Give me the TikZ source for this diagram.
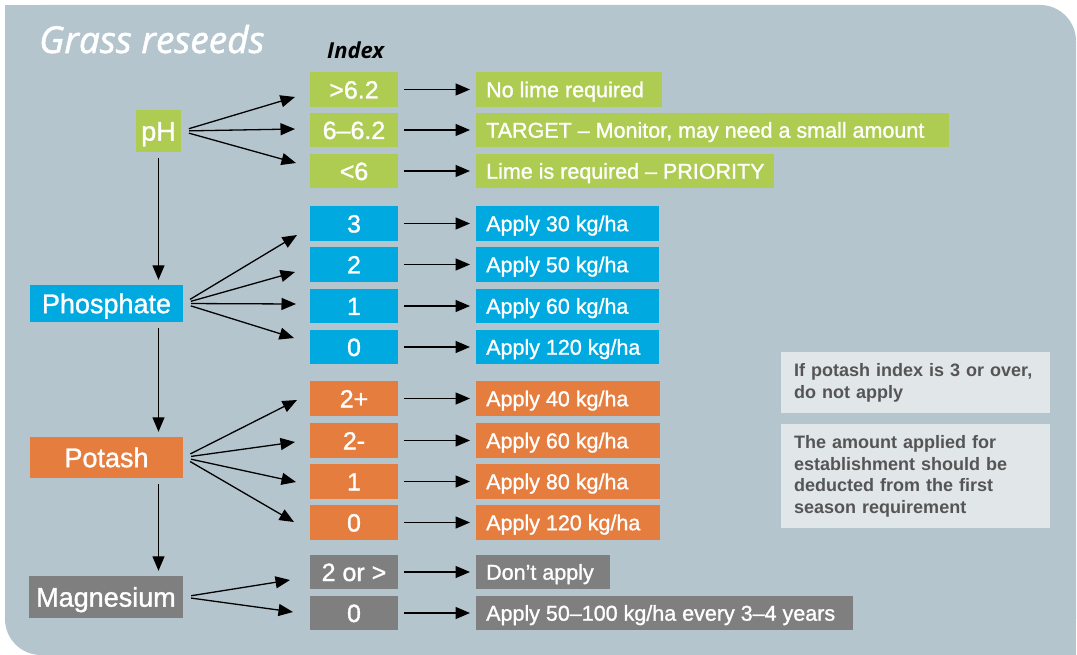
\documentclass[tikz,border=0pt]{standalone}
\usepackage{fontspec}
\setmainfont{Liberation Sans}
\newfontfamily\boxfont{Liberation Sans}[FakeBold=1.2]
\newfontfamily\titlefont{Open Sans}[FakeBold=1.5]
\newfontfamily\headfont{Open Sans}
\usetikzlibrary{arrows.meta}
\definecolor{panel}{HTML}{B5C5CD}
\definecolor{limegr}{HTML}{AECB52}
\definecolor{skyblue}{HTML}{00A9E0}
\definecolor{rust}{HTML}{E57D3F}
\definecolor{slate}{HTML}{7F7F7F}
\definecolor{notebg}{HTML}{E1E6E9}
\definecolor{notetx}{HTML}{555555}

\begin{document}
\begin{tikzpicture}[x=1pt,y=-1pt,
	cat/.style={fill=#1,text=white,inner sep=0pt,text height=19.3pt,text depth=0pt,font=\boxfont\fontsize{27}{30}\selectfont},
	idx/.style={fill=#1,text=white,inner sep=0pt,minimum width=88pt,minimum height=34.5pt,text height=18pt,text depth=0pt,font=\boxfont\fontsize{25}{28}\selectfont},
	res/.style 2 args={fill=#1,text=white,anchor=west,inner xsep=10pt,inner ysep=0pt,minimum height=34.5pt,execute at begin node=\hbox to #2\bgroup,execute at end node=\hss\egroup,text height=15.4pt,text depth=0pt,font=\boxfont\fontsize{21.5}{24}\selectfont},
	note/.style={fill=notebg,text=notetx,anchor=north west,inner xsep=13pt,text width=243pt,align=left,font=\bfseries\fontsize{18}{21.5}\selectfont},
	tip/.style={-{Triangle[length=14.5pt,width=12pt]},line width=1.3pt}]
	\useasboundingbox (0,0) rectangle (1077,655);
	\fill[panel,rounded corners=36pt] (5,5) rectangle (1076,655);
	\fill[panel] (5,5) rectangle (60,60);
	\fill[panel] (1020,600) rectangle (1076,655);

	\node[anchor=base west,inner sep=0pt,text=white,font=\titlefont\itshape\fontsize{37}{42}\selectfont] (ttl) at (39,53) {Grass reseeds};
	\node[anchor=base west,inner sep=0pt,font=\headfont\bfseries\itshape\fontsize{22}{25}\selectfont] (hdr) at (327,59) {Index};

	\node[cat=limegr,minimum width=45pt,minimum height=42pt] (ph) at (158.5,131) {pH};
	\node[cat=skyblue,minimum width=153pt,minimum height=37pt] (pho) at (106.5,303.5) {Phosphate};
	\node[cat=rust,minimum width=153pt,minimum height=41pt] (pot) at (106.5,457.5) {Potash};
	\node[cat=slate,minimum width=154pt,minimum height=42pt] (mag) at (106,597) {Magnesium};

	\node[idx=limegr] (ph1) at (354,89.5) {>6.2};
	\node[idx=limegr] (ph2) at (354,130) {6–6.2};
	\node[idx=limegr] (ph3) at (354,171) {<6};
	\node[res={limegr}{166pt}] (lime1) at (476,89.5) {No lime required};
	\node[res={limegr}{453pt}] (lime2) at (476,130) {TARGET – Monitor, may need a small amount};
	\node[res={limegr}{278pt}] (lime3) at (476,171) {Lime is required – PRIORITY};

	\node[idx=skyblue] (pi3) at (354,223.5) {3};
	\node[idx=skyblue] (pi2) at (354,264.5) {2};
	\node[idx=skyblue] (pi1) at (354,306) {1};
	\node[idx=skyblue] (pi0) at (354,347) {0};
	\node[res={skyblue}{163pt}] (pa3) at (476,223.5) {Apply 30 kg/ha};
	\node[res={skyblue}{163pt}] (pa2) at (476,264.5) {Apply 50 kg/ha};
	\node[res={skyblue}{163pt}] (pa1) at (476,306) {Apply 60 kg/ha};
	\node[res={skyblue}{163pt}] (pa0) at (476,347) {Apply 120 kg/ha};

	\node[idx=rust] (ki2p) at (354,398.5) {2+};
	\node[idx=rust] (ki2m) at (354,440.5) {2-};
	\node[idx=rust] (ki1) at (354,481.5) {1};
	\node[idx=rust] (ki0) at (354,522.5) {0};
	\node[res={rust}{164pt}] (ka2p) at (476,398.5) {Apply 40 kg/ha};
	\node[res={rust}{164pt}] (ka2m) at (476,440.5) {Apply 60 kg/ha};
	\node[res={rust}{164pt}] (ka1) at (476,481.5) {Apply 80 kg/ha};
	\node[res={rust}{164pt}] (ka0) at (476,522.5) {Apply 120 kg/ha};

	\node[idx=slate] (mi2) at (354,572) {2 or >};
	\node[idx=slate] (mi0) at (354,613) {0};
	\node[res={slate}{114pt}] (ma2) at (476,572) {Don’t apply};
	\node[res={slate}{357pt}] (ma0) at (476,613) {Apply 50–100 kg/ha every 3–4 years};

	\node[note,minimum height=61pt] (n1) at (781,352) {If potash index is 3 or over,\\do not apply};
	\node[note,minimum height=104pt] (n2) at (781,424) {The amount applied for\\establishment should be\\deducted from the first\\season requirement};

	\coordinate (t-ph1) at (295,97);
	\coordinate (t-ph2) at (295,129);
	\coordinate (t-ph3) at (296,163);
	\coordinate (t-pi3) at (297,235);
	\coordinate (t-pi2) at (295,272);
	\coordinate (t-pi1) at (296,304);
	\coordinate (t-pi0) at (294,338);
	\coordinate (t-ki2p) at (297,400);
	\coordinate (t-ki2m) at (295,442);
	\coordinate (t-ki1) at (296,482);
	\coordinate (t-ki0) at (294,522);
	\coordinate (t-mi2) at (290,580);
	\coordinate (t-mi0) at (293,612);

	\path[tip,shorten <=8pt]
	(ph.east) edge (t-ph1)
	  edge (t-ph2)
	  edge (t-ph3)
	(pho.east) edge (t-pi3)
	  edge (t-pi2)
	  edge (t-pi1)
	  edge (t-pi0)
	(pot.east) edge (t-ki2p)
	  edge (t-ki2m)
	  edge (t-ki1)
	  edge (t-ki0)
	(mag.east) edge (t-mi2)
	  edge (t-mi0);
	\path[tip,shorten <=6pt,shorten >=5pt]
	(ph) edge (ph |- pho.north)
	(ph |- pho.south) edge (ph |- pot.north)
	(ph |- pot.south) edge (ph |- mag.north);
	\path[tip,shorten <=6pt,shorten >=6pt]
	(ph1) edge (lime1)
	(ph2) edge (lime2)
	(ph3) edge (lime3)
	(pi3) edge (pa3)
	(pi2) edge (pa2)
	(pi1) edge (pa1)
	(pi0) edge (pa0)
	(ki2p) edge (ka2p)
	(ki2m) edge (ka2m)
	(ki1) edge (ka1)
	(ki0) edge (ka0)
	(mi2) edge (ma2)
	(mi0) edge (ma0);
\end{tikzpicture}
\end{document}
